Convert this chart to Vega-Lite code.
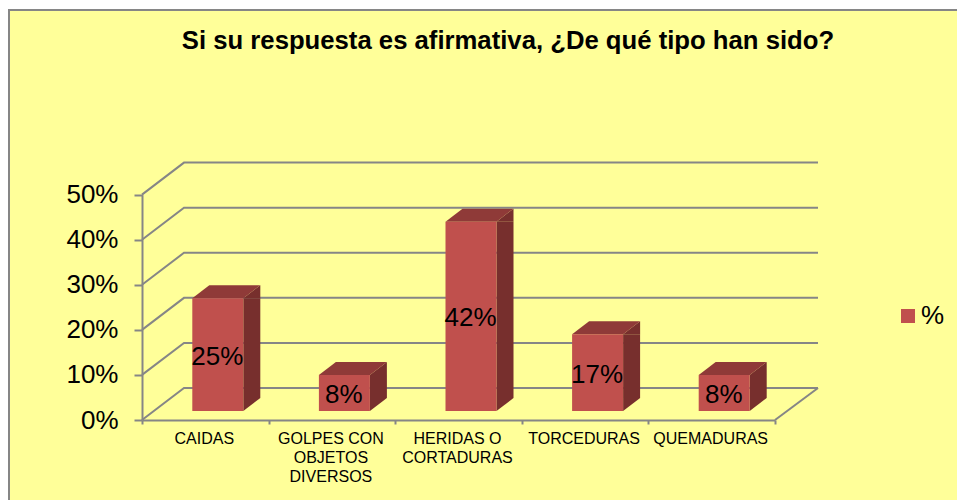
{
"$schema":"https://vega.github.io/schema/vega-lite/v6.json",
"autosize":{"type":"none"},
"padding":{"left":9,"top":10,"right":0,"bottom":0},
"width":950,"height":492,
"background":"white",
"view":{"fill":"#FFFF99","stroke":"#868686","strokeWidth":2},
"title":{"text":"Si su respuesta es afirmativa, ¿De qué tipo han sido?","font":"Liberation Sans","fontWeight":"bold","fontSize":25.7,"color":"#000000","anchor":"middle","frame":"group","offset":-45,"dx":24},
"datasets":{
"bars":[
{"category":"CAIDAS","value":0.25,"series":"%"},
{"category":"GOLPES CON OBJETOS DIVERSOS","value":0.08,"series":"%"},
{"category":"HERIDAS O CORTADURAS","value":0.42,"series":"%"},
{"category":"TORCEDURAS","value":0.17,"series":"%"},
{"category":"QUEMADURAS","value":0.08,"series":"%"}],
"levels":[{"value":0},{"value":0.1},{"value":0.2},{"value":0.3},{"value":0.4},{"value":0.5}]
},
"data":{"name":"bars"},
"encoding":{
"x":{"field":"category","type":"nominal","sort":null,"title":null,
"scale":{"type":"band","domain":["CAIDAS","GOLPES CON OBJETOS DIVERSOS","HERIDAS O CORTADURAS","TORCEDURAS","QUEMADURAS"],"range":[133,766],"paddingInner":0,"paddingOuter":0},
"axis":{"orient":"bottom","offset":-82,"title":null,"labelAngle":0,"labelFont":"Liberation Sans","labelFontSize":16,"labelColor":"#000000","labelLimit":300,"labelPadding":6,"labelOffset":-1.5,"labelAlign":"center","labelBaseline":"top","tickBand":"extent","tickSize":4,"tickWidth":2,"tickColor":"#868686","domainColor":"#868686","domainWidth":2,"grid":false,"labelLineHeight":19,
"labelExpr":"datum.label == 'GOLPES CON OBJETOS DIVERSOS' ? ['GOLPES CON','OBJETOS','DIVERSOS'] : datum.label == 'HERIDAS O CORTADURAS' ? ['HERIDAS O','CORTADURAS'] : datum.label"}},
"y":{"field":"value","type":"quantitative","stack":null,"title":null,
"scale":{"domain":[0,0.5],"range":[410,184.6],"nice":false,"zero":true},
"axis":{"orient":"left","offset":-133,"title":null,"values":[0,0.1,0.2,0.3,0.4,0.5],"format":".0%","labelFont":"Liberation Sans","labelFontSize":26,"labelColor":"#000000","labelPadding":16,"tickSize":8,"tickWidth":2,"tickColor":"#868686","domainColor":"#868686","domainWidth":2,"grid":false}}
},
"layer":[
{"data":{"name":"levels"},
"mark":{"type":"point","shape":"M0,0L42,-32L676,-32","size":4,"filled":false,"stroke":"#868686","strokeWidth":2,"opacity":1},
"encoding":{"x":{"datum":"CAIDAS","bandPosition":0}}},
{"data":{"values":[{"value":0}]},
"mark":{"type":"point","shape":"M0,0L43,-32","size":4,"filled":false,"stroke":"#868686","strokeWidth":2,"opacity":1},
"encoding":{"x":{"datum":"QUEMADURAS","bandPosition":1}}},
{"mark":{"type":"bar","size":17,"xOffset":46.5,"yOffset":-9,"y2Offset":-22,"fill":"#772F2D"},
"encoding":{"y2":{"datum":0}}},
{"mark":{"type":"point","shape":"M38,-9L55,-22L55,-9Z","size":4,"filled":true,"fill":"#772F2D","stroke":null,"opacity":1}},
{"mark":{"type":"point","shape":"M38,-9L55,-22L38,-22Z","size":4,"filled":true,"fill":"#772F2D","stroke":null,"opacity":1},
"encoding":{"y":{"datum":0}}},
{"mark":{"type":"point","shape":"M-13,-9L38,-9L55,-22L4,-22Z","size":4,"filled":true,"fill":"#8F3A38","stroke":null,"opacity":1}},
{"mark":{"type":"bar","size":51,"xOffset":12.5,"yOffset":-9,"y2Offset":-9},
"encoding":{"y2":{"datum":0},"color":{"field":"series","type":"nominal","scale":{"domain":["%"],"range":["#C0504D"]},
"legend":{"orient":"none","legendX":886,"legendY":293,"title":null,"symbolType":"square","symbolSize":196,"symbolStrokeWidth":0,"labelFont":"Liberation Sans","labelFontSize":26,"labelColor":"#000000","labelOffset":0}}}},
{"transform":[{"calculate":"datum.value/2","as":"mid"}],
"mark":{"type":"text","font":"Liberation Sans","fontSize":26,"color":"#000000","align":"center","baseline":"middle","xOffset":12,"yOffset":-7},
"encoding":{"y":{"field":"mid","type":"quantitative"},"text":{"field":"value","type":"quantitative","format":".0%"}}}
]
}
